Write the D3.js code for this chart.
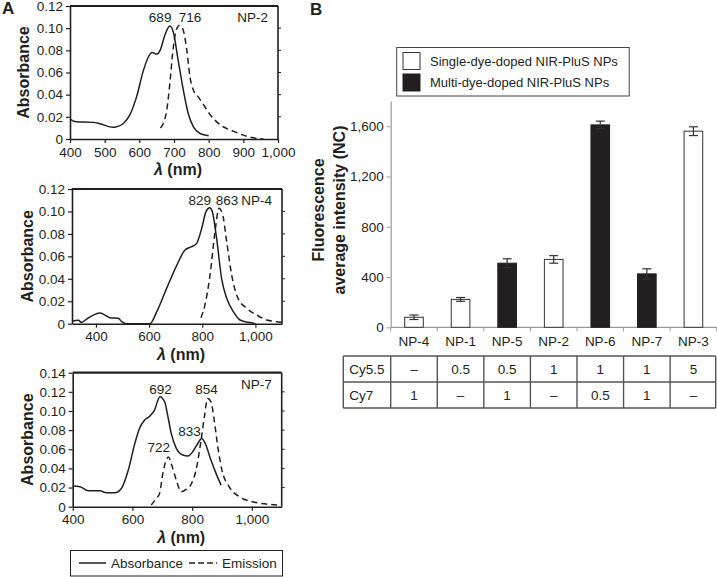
<!DOCTYPE html>
<html>
<head>
<meta charset="utf-8">
<script src="https://cdn.jsdelivr.net/npm/d3@7"></script>
<style>
  body { margin: 0; background: #fff; }
  svg { display: block; font-family: "Liberation Sans", Arial, sans-serif; }
</style>
</head>
<body>
<svg id="chart" width="717" height="577"></svg>
<script>
// ---------- Panel A data ----------
const np2Abs = [[400,0.018],[418,0.0155],[467,0.015],[486,0.0138],[524,0.0105],[534,0.011],[553,0.0138],[573,0.022],[592,0.038],[611,0.061],[626,0.074],[637,0.078],[650,0.0766],[660,0.080],[674,0.094],[688,0.102],[698,0.0966],[712,0.071],[727,0.044],[741,0.023],[756,0.011],[775,0.005],[800,0.003]];
const np2Em = [[661,0.010],[669,0.014],[679,0.026],[688,0.050],[696,0.077],[705,0.0966],[715,0.1025],[725,0.0996],[737,0.080],[746,0.056],[756,0.044],[770,0.038],[785,0.031],[804,0.022],[833,0.0129],[872,0.0069],[910,0.0024],[939,0.0006],[958,0]];
const np4Abs = [[312,0.0024],[334,0.003],[346,0.0012],[365,0.004],[390,0.0077],[415,0.0095],[434,0.0077],[453,0.0053],[484,0.0048],[497,0.0018],[516,0],[603,0],[629,0.0107],[666,0.0315],[704,0.052],[735,0.0656],[760,0.0686],[779,0.0716],[798,0.085],[814,0.0998],[828,0.1034],[838,0.0998],[854,0.076],[873,0.040],[892,0.0226],[917,0.0107],[942,0.0033],[973,0.0012],[1000,0]];
const np4Em = [[795,0.0053],[810,0.0166],[829,0.043],[848,0.082],[863,0.1028],[876,0.098],[892,0.073],[911,0.043],[932,0.024],[967,0.0137],[1005,0.0077],[1043,0.0033],[1080,0.0018],[1100,0.0012]];
const np7Abs = [[400,0.0216],[424,0.0209],[452,0.0167],[491,0.0167],[513,0.0146],[541,0.0146],[563,0.019],[586,0.038],[608,0.066],[624,0.082],[641,0.0905],[658,0.0946],[674,0.101],[692,0.115],[708,0.1096],[719,0.094],[730,0.0766],[747,0.061],[769,0.054],[786,0.053],[802,0.0574],[819,0.066],[832,0.0713],[844,0.066],[863,0.0487],[880,0.0348],[897,0.0226]];
const np7Em = [[663,0.0017],[680,0.0087],[691,0.0139],[702,0.0348],[713,0.0487],[721,0.052],[730,0.045],[747,0.0278],[763,0.0157],[780,0.018],[797,0.0237],[813,0.038],[830,0.0696],[841,0.094],[852,0.113],[863,0.1096],[874,0.0905],[886,0.0626],[900,0.038],[924,0.0209],[958,0.0104],[1002,0.0052],[1047,0.0028],[1086,0.0017]];

const np2XTicks = [400,500,600,700,800,900,1000];
const np4XTicks = [400,600,800,1000];
const np7XTicks = [400,600,800,1000];
const yTicks12 = [0,0.02,0.04,0.06,0.08,0.10,0.12];
const yTicks14 = [0,0.02,0.04,0.06,0.08,0.10,0.12,0.14];

// peak labels: text, anchor wavelength and absorbance value of the label baseline
const np2Labels = [{t:"689", x:660, v:0.1057}, {t:"716", x:746, v:0.1057}];
const np4Labels = [{t:"829", x:791, v:0.1057}, {t:"863", x:893, v:0.1057}];
const np7Labels = [{t:"692", x:694, v:0.1177}, {t:"854", x:848, v:0.1177}, {t:"833", x:791, v:0.0739}, {t:"722", x:688, v:0.0572}];

// ---------- Panel B data ----------
const categories = ["NP-4","NP-1","NP-5","NP-2","NP-6","NP-7","NP-3"];
const intensity  = [80, 222, 510, 540, 1610, 425, 1560];
const errors     = [18, 15, 35, 30, 30, 40, 35];
const dyeType    = ["single","single","multi","single","multi","multi","single"];
const bYTicks    = [0,400,800,1200,1600];
const cy55Row    = ["–","0.5","0.5","1","1","1","5"];
const cy7Row     = ["1","–","1","–","0.5","1","–"];
const legendB    = [{k:"single", t:"Single-dye-doped NIR-PluS NPs"},{k:"multi", t:"Multi-dye-doped NIR-PluS NPs"}];

const svg = d3.select("#chart");
const ink = "#231f20";
const tickFont = "13.5px";

function drawSpectrum(o) {
  const x = d3.scaleLinear().domain(o.xDomain).range([o.left, o.right]);
  const y = d3.scaleLinear().domain(o.yDomain).range([o.bottom, o.top]);
  const g = svg.append("g");

  g.append("line").attr("x1", o.left).attr("x2", o.right).attr("y1", o.top).attr("y2", o.top)
    .attr("stroke", ink).attr("stroke-width", 2.2);
  g.append("line").attr("x1", o.right).attr("x2", o.right).attr("y1", o.top).attr("y2", o.bottom)
    .attr("stroke", ink).attr("stroke-width", 1.6);
  g.selectAll(".rt").data(o.yTicks.slice(1, -1)).join("line")
    .attr("x1", o.right).attr("x2", o.right + 3)
    .attr("y1", d => y(d)).attr("y2", d => y(d)).attr("stroke", ink).attr("stroke-width", 1);

  const xAxis = g.append("g").attr("transform", `translate(0,${o.bottom})`)
    .call(d3.axisBottom(x).tickValues(o.xTicks).tickFormat(d3.format(",")).tickSize(4).tickPadding(4).tickSizeOuter(0));
  const yAxis = g.append("g").attr("transform", `translate(${o.left},0)`)
    .call(d3.axisLeft(y).tickValues(o.yTicks).tickFormat(d => d === 0 ? "0" : d3.format(".2f")(d)).tickSize(4).tickPadding(3).tickSizeOuter(0));
  [xAxis, yAxis].forEach(a => {
    a.select(".domain").attr("stroke", ink).attr("stroke-width", 1.6);
    a.selectAll(".tick line").attr("stroke", ink).attr("stroke-width", 1.2);
    a.selectAll(".tick text").attr("fill", ink).style("font-size", tickFont).style("font-family", "Liberation Sans, Arial, sans-serif");
  });

  const line = d3.line().x(d => x(d[0])).y(d => y(d[1])).curve(d3.curveMonotoneX);
  g.append("path").datum(o.abs).attr("d", line).attr("fill", "none").attr("stroke", ink).attr("stroke-width", 1.5);
  g.append("path").datum(o.em).attr("d", line).attr("fill", "none").attr("stroke", ink).attr("stroke-width", 1.5).attr("stroke-dasharray", "6,4");

  g.selectAll(".pk").data(o.labels).join("text")
    .attr("x", d => x(d.x)).attr("y", d => y(d.v)).attr("text-anchor", "middle")
    .attr("fill", ink).style("font-size", tickFont).text(d => d.t);
  g.append("text").attr("x", o.right - 10).attr("y", o.top + 16).attr("text-anchor", "end")
    .attr("fill", ink).style("font-size", tickFont).text(o.name);

  g.append("text").attr("transform", `translate(${o.ylabX},${(o.top + o.bottom) / 2}) rotate(-90)`)
    .attr("text-anchor", "middle").attr("dy", "0.35em").attr("fill", ink)
    .style("font-size", "16px").style("font-weight", "bold").text("Absorbance");
  const xl = g.append("text").attr("x", (o.left + o.right) / 2 + 4).attr("y", o.xlabY)
    .attr("text-anchor", "middle").attr("fill", ink).style("font-size", "16px").style("font-weight", "bold");
  xl.append("tspan").style("font-style", "italic").text("λ");
  xl.append("tspan").text(" (nm)");
}

drawSpectrum({name:"NP-2", abs:np2Abs, em:np2Em, xDomain:[400,1000], yDomain:[0,0.12], xTicks:np2XTicks, yTicks:yTicks12,
  left:70, right:278, top:6, bottom:139, labels:np2Labels, ylabX:23, xlabY:175});
drawSpectrum({name:"NP-4", abs:np4Abs, em:np4Em, xDomain:[310,1100], yDomain:[0,0.12], xTicks:np4XTicks, yTicks:yTicks12,
  left:72, right:282, top:189, bottom:323.7, labels:np4Labels, ylabX:27, xlabY:360});
drawSpectrum({name:"NP-7", abs:np7Abs, em:np7Em, xDomain:[400,1100], yDomain:[0,0.14], xTicks:np7XTicks, yTicks:yTicks14,
  left:72.7, right:281.7, top:372.7, bottom:506.7, labels:np7Labels, ylabX:27, xlabY:543});

// Panel A legend
const legA = svg.append("g");
legA.append("rect").attr("x", 70.5).attr("y", 550.5).attr("width", 212).attr("height", 25.5)
  .attr("fill", "#fff").attr("stroke", ink).attr("stroke-width", 1);
legA.append("line").attr("x1", 79).attr("x2", 106).attr("y1", 563).attr("y2", 563).attr("stroke", ink).attr("stroke-width", 1.5);
legA.append("text").attr("x", 111).attr("y", 568).attr("fill", ink).style("font-size", tickFont).text("Absorbance");
legA.append("line").attr("x1", 189).attr("x2", 217).attr("y1", 563).attr("y2", 563).attr("stroke", ink).attr("stroke-width", 1.5).attr("stroke-dasharray", "6,3");
legA.append("text").attr("x", 222).attr("y", 568).attr("fill", ink).style("font-size", tickFont).text("Emission");

svg.append("text").attr("x", 2).attr("y", 14).attr("fill", ink).style("font-size", "17px").style("font-weight", "bold").text("A");
svg.append("text").attr("x", 310).attr("y", 15).attr("fill", ink).style("font-size", "17px").style("font-weight", "bold").text("B");

// ---------- Panel B ----------
const bLeft = 390.7, bRight = 716.7, bBottom = 327.3, bTop = 101;
const xb = d3.scaleBand().domain(categories).range([bLeft, bRight]).paddingInner(0.6).paddingOuter(0.3);
const yb = d3.scaleLinear().domain([0, 1800]).range([bBottom, bTop]);
const gb = svg.append("g");
const axisGray = "#9a9a9a";

const yAxB = gb.append("g").attr("transform", `translate(${bLeft},0)`)
  .call(d3.axisLeft(yb).tickValues(bYTicks).tickFormat(d3.format(",")).tickSize(4).tickPadding(3).tickSizeOuter(0));
yAxB.select(".domain").attr("stroke", axisGray).attr("stroke-width", 1.2);
yAxB.selectAll(".tick line").attr("stroke", axisGray);
yAxB.selectAll(".tick text").attr("fill", ink).style("font-size", tickFont).style("font-family", "Liberation Sans, Arial, sans-serif");

gb.append("line").attr("x1", bLeft).attr("x2", bRight).attr("y1", bBottom).attr("y2", bBottom).attr("stroke", axisGray).attr("stroke-width", 1.2);
const step = xb.step();
const bounds = categories.map(c => xb(c) - (step - xb.bandwidth()) / 2).concat([bRight]);
gb.selectAll(".bt").data(bounds).join("line")
  .attr("x1", d => d).attr("x2", d => d).attr("y1", bBottom).attr("y2", bBottom + 4).attr("stroke", axisGray);

const barData = categories.map((c, i) => ({c, v: intensity[i], e: errors[i], t: dyeType[i]}));
gb.selectAll(".bar").data(barData).join("rect")
  .attr("x", d => xb(d.c)).attr("width", xb.bandwidth())
  .attr("y", d => yb(d.v)).attr("height", d => yb(0) - yb(d.v))
  .attr("fill", d => d.t === "multi" ? ink : "#fff")
  .attr("stroke", d => d.t === "multi" ? ink : "#333").attr("stroke-width", 1);

const eb = gb.selectAll(".eb").data(barData).join("g");
const cx = d => xb(d.c) + xb.bandwidth() / 2;
eb.append("line").attr("x1", cx).attr("x2", cx).attr("y1", d => yb(d.v + d.e)).attr("y2", d => yb(d.v - d.e)).attr("stroke", "#333").attr("stroke-width", 1.2);
eb.append("line").attr("x1", d => cx(d) - 4.5).attr("x2", d => cx(d) + 4.5).attr("y1", d => yb(d.v + d.e)).attr("y2", d => yb(d.v + d.e)).attr("stroke", "#333").attr("stroke-width", 1.2);
eb.append("line").attr("x1", d => cx(d) - 4.5).attr("x2", d => cx(d) + 4.5).attr("y1", d => yb(d.v - d.e)).attr("y2", d => yb(d.v - d.e)).attr("stroke", "#333").attr("stroke-width", 1.2);

gb.selectAll(".cl").data(categories).join("text")
  .attr("x", d => xb(d) + xb.bandwidth() / 2).attr("y", 346).attr("text-anchor", "middle")
  .attr("fill", ink).style("font-size", tickFont).text(d => d);

const yt = gb.append("text").attr("transform", `translate(329,210) rotate(-90)`).attr("text-anchor", "middle")
  .attr("fill", ink).style("font-size", "16px").style("font-weight", "bold");
yt.append("tspan").attr("x", 0).attr("dy", "-0.3em").text("Fluorescence");
yt.append("tspan").attr("x", 0).attr("dy", "1.3em").text("average intensity (NC)");

const lg = gb.append("g");
lg.append("rect").attr("x", 396.7).attr("y", 47.5).attr("width", 232.5).attr("height", 48.5)
  .attr("fill", "#fff").attr("stroke", "#444").attr("stroke-width", 1);
lg.selectAll(".sw").data(legendB).join("rect")
  .attr("x", 403).attr("y", (d, i) => 52.5 + i * 21.5).attr("width", 17).attr("height", 17)
  .attr("fill", d => d.k === "multi" ? ink : "#fff").attr("stroke", d => d.k === "multi" ? ink : "#333").attr("stroke-width", 1);
lg.selectAll(".lt").data(legendB).join("text")
  .attr("x", 430).attr("y", (d, i) => 65.5 + i * 21.5).attr("fill", ink).style("font-size", "13px").text(d => d.t);

const tLeft = 343.3, rowsY = [356, 382, 408];
const tg = gb.append("g");
const tStroke = "#555";
rowsY.forEach(yy => tg.append("line").attr("x1", tLeft).attr("x2", bRight - 1).attr("y1", yy).attr("y2", yy).attr("stroke", tStroke).attr("stroke-width", 1.4));
[tLeft].concat(bounds.slice(0, -1)).concat([bRight - 1]).forEach(xx =>
  tg.append("line").attr("x1", xx).attr("x2", xx).attr("y1", rowsY[0]).attr("y2", rowsY[2]).attr("stroke", tStroke).attr("stroke-width", 1.4));
const rows = [{h:"Cy5.5", v:cy55Row}, {h:"Cy7", v:cy7Row}];
rows.forEach((r, ri) => {
  const yc = (rowsY[ri] + rowsY[ri + 1]) / 2 + 5;
  tg.append("text").attr("x", tLeft + 6).attr("y", yc).attr("fill", ink).style("font-size", tickFont).text(r.h);
  tg.selectAll(".tv" + ri).data(r.v).join("text")
    .attr("x", (d, i) => xb(categories[i]) + xb.bandwidth() / 2).attr("y", yc).attr("text-anchor", "middle")
    .attr("fill", ink).style("font-size", tickFont).text(d => d);
});
</script>
</body>
</html>
